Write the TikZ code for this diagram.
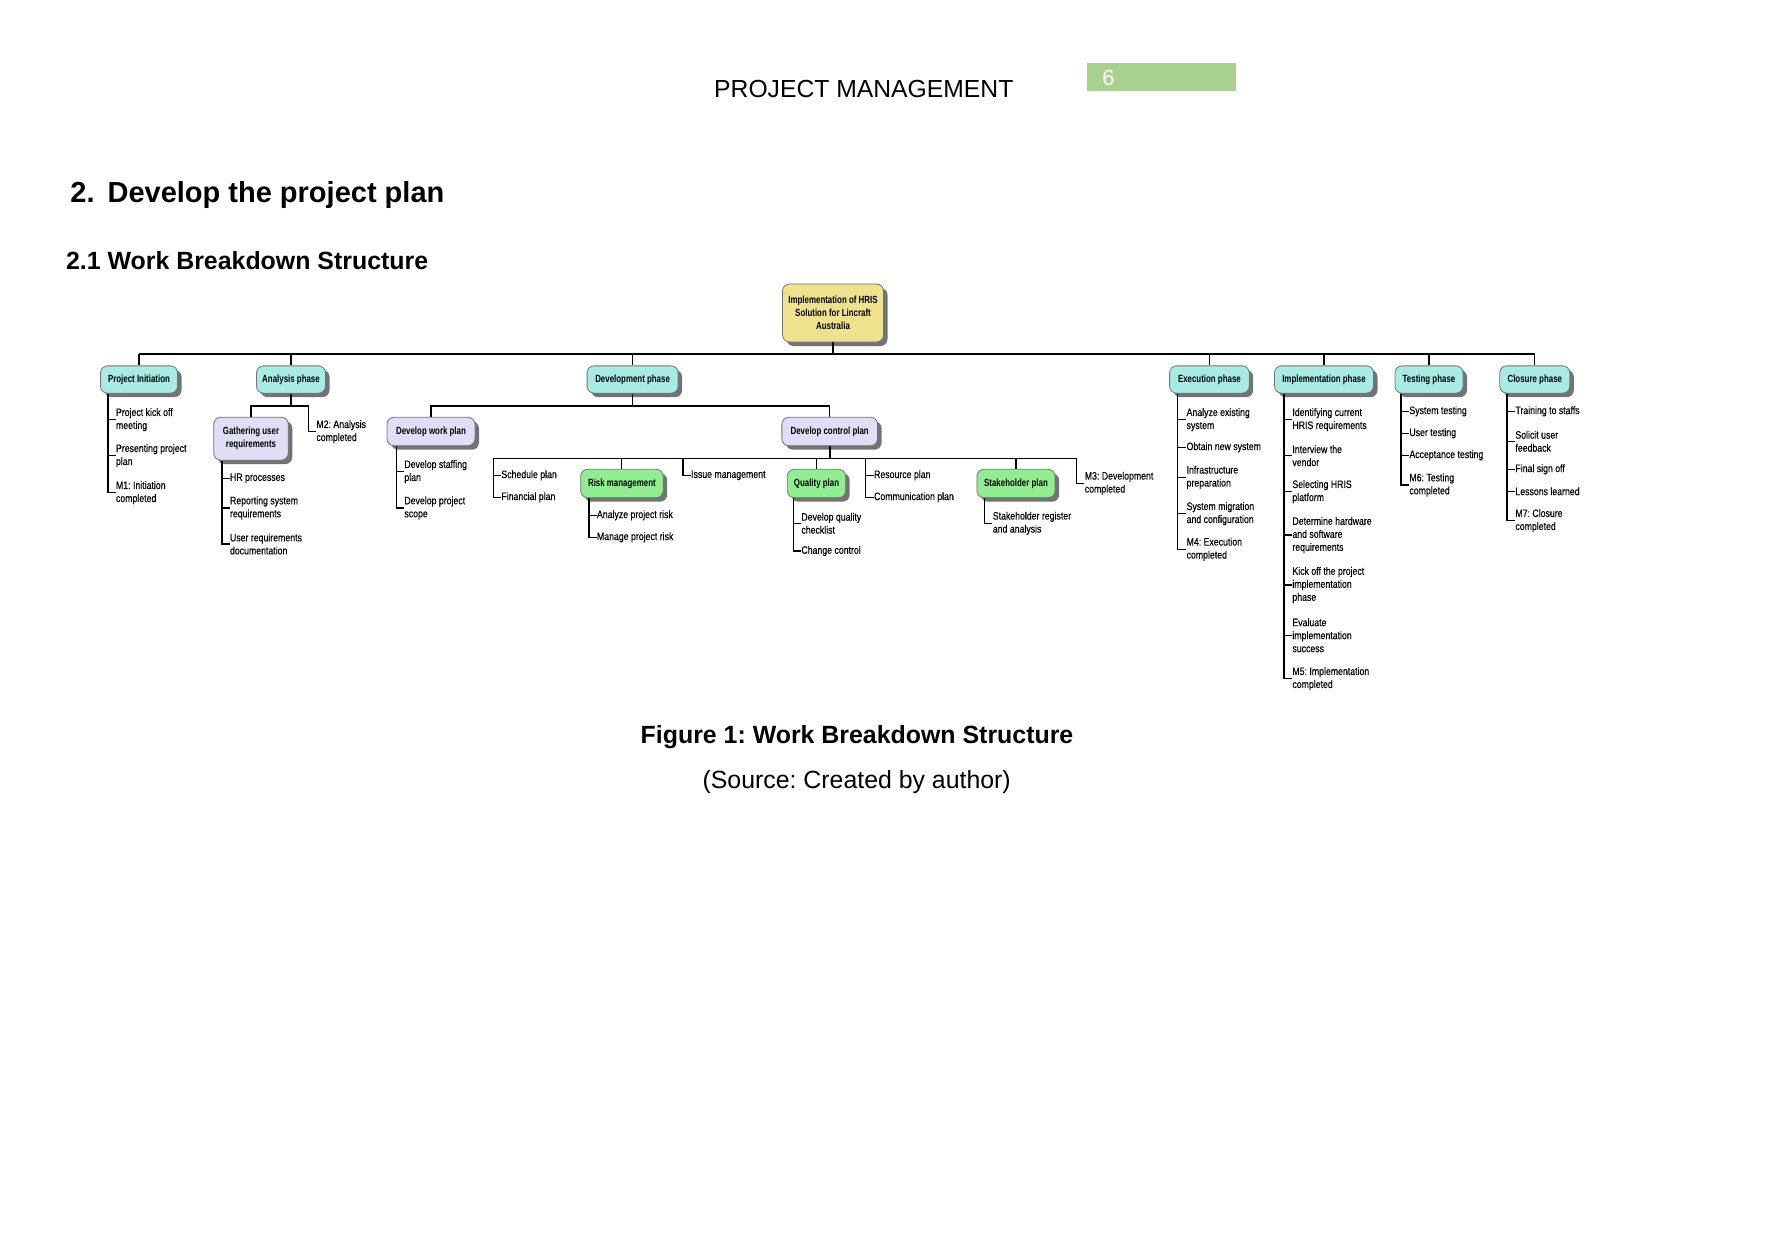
\documentclass[tikz,border=0pt]{standalone}
\usepackage{fontspec}
\setmainfont{Liberation Sans}
\newfontfamily\nar[FakeStretch=0.81,BoldFeatures={FakeStretch=0.76}]{Liberation Sans}
\newfontfamily\narl[FakeStretch=0.81,FakeBold=0.25]{Liberation Sans}
\usetikzlibrary{shadows}
\definecolor{rootc}{RGB}{238,226,140}
\definecolor{phasec}{RGB}{168,234,228}
\definecolor{greenc}{RGB}{144,238,144}
\definecolor{lavc}{RGB}{222,222,246}
\definecolor{hdrgreen}{RGB}{169,209,142}
\frenchspacing
\tikzset{
  conn/.style={line width=0.55pt, black},
  thickconn/.style={line width=1pt, black},
  wbox/.style={rounded corners=3.5pt, draw=black!55, line width=0.4pt, align=center,
    inner sep=0pt, font=\nar\bfseries\fontsize{5.2}{6.5}\selectfont,
    drop shadow={shadow xshift=2pt, shadow yshift=-2pt, fill=black!55, opacity=1}},
  rootbox/.style={wbox, fill=rootc, minimum height=29pt},
  phasebox/.style={wbox, fill=phasec, minimum height=13.65pt},
  lavbox/.style={wbox, fill=lavc, minimum height=14.2pt},
  greenbox/.style={wbox, fill=greenc, minimum height=14.2pt},
  leaf/.style={anchor=west, align=left, inner sep=0pt, font=\narl\fontsize{5.4}{6.5}\selectfont},
}
\begin{document}
\begin{tikzpicture}[x=0.5pt, y=-0.5pt]
\useasboundingbox (0,0) rectangle (1772,1241);
\fill[white] (0,0) rectangle (1772,1241);

% header
\node[anchor=base west, inner sep=0pt, font=\fontsize{12.35}{14}\selectfont] (hdr) at (713.8,97.3) {PROJECT MANAGEMENT};
\node[fill=hdrgreen, minimum width=74.55pt, minimum height=14.15pt, inner sep=0pt] (pgbox) at (1161.15,76.85) {};
\node[anchor=base west, inner sep=0pt, text=white, font=\fontsize{11}{13}\selectfont] (pgnum) at (1102,86) {6};
\node[anchor=base west, inner sep=0pt, font=\bfseries\fontsize{14.5}{17}\selectfont] (h1) at (70,202.7) {2.\hspace{6.5pt}Develop the project plan};
\node[anchor=base west, inner sep=0pt, font=\bfseries\fontsize{12.45}{15}\selectfont] (h2) at (65.7,269.3) {2.1 Work Breakdown Structure};
\node[anchor=base, inner sep=0pt, font=\bfseries\fontsize{12.45}{15}\selectfont] (cap) at (857,743.3) {Figure 1: Work Breakdown Structure};
\node[anchor=base, inner sep=0pt, font=\fontsize{12.43}{15}\selectfont] (src) at (856.7,788) {(Source: Created by author)};

% boxes
\node[rootbox, minimum width=50.5pt] (root) at (833,313) {Implementation of HRIS\\Solution for Lincraft\\Australia};
\node[phasebox, minimum width=38.5pt] (pi) at (139,379.5) {Project Initiation};
\node[phasebox, minimum width=34.5pt] (an) at (291,379.5) {Analysis phase};
\node[phasebox, minimum width=45.5pt] (dev) at (632.6,379.5) {Development phase};
\node[phasebox, minimum width=39.8pt] (exe) at (1209.4,379.5) {Execution phase};
\node[phasebox, minimum width=49.5pt] (imp) at (1324,379.5) {Implementation phase};
\node[phasebox, minimum width=34pt] (tst) at (1429,379.5) {Testing phase};
\node[phasebox, minimum width=35pt] (clo) at (1534.8,379.5) {Closure phase};

\node[lavbox, minimum width=37.25pt, minimum height=21.5pt] (gath) at (251,438.7) {Gathering user\\requirements};
\node[lavbox, minimum width=44pt] (wp) at (431,431.5) {Develop work plan};
\node[lavbox, minimum width=47.85pt] (cp) at (829.7,431.5) {Develop control plan};

\node[greenbox, minimum width=41.25pt] (risk) at (621.9,483.5) {Risk management};
\node[greenbox, minimum width=29.2pt] (qual) at (816.5,483.5) {Quality plan};
\node[greenbox, minimum width=39.1pt] (stake) at (1016,483.5) {Stakeholder plan};

% leaves
\node[leaf] (p1) at (115.6,419.7) {Project kick off\\meeting};
\node[leaf] (p2) at (115.6,455.7) {Presenting project\\plan};
\node[leaf] (p3) at (115.6,492.7) {M1: Initiation\\completed};

\node[leaf] (g1) at (229.6,478.3) {HR processes};
\node[leaf] (g2) at (229.6,508) {Reporting system\\requirements};
\node[leaf] (g3) at (229.6,544) {User requirements\\documentation};

\node[leaf] (m2) at (316,431.7) {M2: Analysis\\completed};

\node[leaf] (w1) at (404,471.7) {Develop staffing\\plan};
\node[leaf] (w2) at (404,508) {Develop project\\scope};

\node[leaf] (sch) at (501,475.3) {Schedule plan};
\node[leaf] (fin) at (501,497.3) {Financial plan};

\node[leaf] (r1) at (596.6,515.3) {Analyze project risk};
\node[leaf] (r2) at (596.6,537.3) {Manage project risk};

\node[leaf] (iss) at (690.7,475.3) {Issue management};

\node[leaf] (q1) at (801,523.3) {Develop quality\\checklist};
\node[leaf] (q2) at (801,551) {Change control};

\node[leaf] (res) at (873.7,475.3) {Resource plan};
\node[leaf] (com) at (873.7,497.3) {Communication plan};

\node[leaf] (s1) at (992.4,523.3) {Stakeholder register\\and analysis};

\node[leaf] (m3) at (1084.4,483.3) {M3: Development\\completed};

\node[leaf] (e1) at (1186.2,419.7) {Analyze existing\\system};
\node[leaf] (e2) at (1186.2,447.3) {Obtain new system};
\node[leaf] (e3) at (1186.2,477.3) {Infrastructure\\preparation};
\node[leaf] (e4) at (1186.2,513.7) {System migration\\and configuration};
\node[leaf] (e5) at (1186.2,549.3) {M4: Execution\\completed};

\node[leaf] (i1) at (1292,419.7) {Identifying current\\HRIS requirements};
\node[leaf] (i2) at (1292,455.7) {Interview the\\vendor};
\node[leaf] (i3) at (1292,491.7) {Selecting HRIS\\platform};
\node[leaf] (i4) at (1292,535) {Determine hardware\\and software\\requirements};
\node[leaf] (i5) at (1292,585) {Kick off the project\\implementation\\phase};
\node[leaf] (i6) at (1292,635.3) {Evaluate\\implementation\\success};
\node[leaf] (i7) at (1292,678.7) {M5: Implementation\\completed};

\node[leaf] (t1) at (1409,411.3) {System testing};
\node[leaf] (t2) at (1409,433.3) {User testing};
\node[leaf] (t3) at (1409,455.3) {Acceptance testing};
\node[leaf] (t4) at (1409,485) {M6: Testing\\completed};

\node[leaf] (c1) at (1515,411.3) {Training to staffs};
\node[leaf] (c2) at (1515,441.3) {Solicit user\\feedback};
\node[leaf] (c3) at (1515,469.3) {Final sign off};
\node[leaf] (c4) at (1515,491.3) {Lessons learned};
\node[leaf] (c5) at (1515,520.7) {M7: Closure\\completed};

% bus coordinates
\coordinate (bus0) at (0,354);
\coordinate (bus1) at (0,406);
\coordinate (bus2) at (0,458.3);
\coordinate (m2x) at (308.5,406);
\coordinate (schv) at (493.7,0);
\coordinate (issv) at (683,0);
\coordinate (resv) at (865.6,0);
\coordinate (m3v) at (1076.3,0);
\coordinate (piv) at (108,0);
\coordinate (gv) at (222,0);
\coordinate (wv) at (396.5,0);
\coordinate (rv) at (589,0);
\coordinate (qv) at (793.7,0);
\coordinate (sv) at (984.8,0);
\coordinate (ev) at (1177.7,0);
\coordinate (iv) at (1284,0);
\coordinate (tv) at (1401,0);
\coordinate (cv) at (1507,0);

% level 1
\draw[thickconn] (root.south) -- (root.south |- bus0);
\draw[conn] (pi.north |- bus0) -- (clo.north |- bus0);
\foreach \n in {pi,an,dev,exe,imp,tst,clo} \draw[conn] (\n.north |- bus0) -- (\n.north);

% analysis
\draw[thickconn] (an.south) -- (an.south |- bus1);
\draw[conn] (gath.north) |- (m2x) |- (m2.west);

% development
\draw[conn] (dev.south) -- (dev.south |- bus1);
\draw[conn] (wp.north) |- (cp.north |- bus1) -- (cp.north);

% control
\draw[thickconn] (cp.south) -- (cp.south |- bus2);
\draw[conn] (schv |- bus2) -- (m3v |- bus2);
\draw[conn] (schv |- bus2) |- (sch.west);
\draw[conn] (schv |- bus2) |- (fin.west);
\draw[conn] (risk.north |- bus2) -- (risk.north);
\draw[conn] (issv |- bus2) |- (iss.west);
\draw[conn] (qual.north |- bus2) -- (qual.north);
\draw[conn] (resv |- bus2) |- (res.west);
\draw[conn] (resv |- bus2) |- (com.west);
\draw[conn] (stake.north |- bus2) -- (stake.north);
\draw[conn] (m3v |- bus2) |- (m3.west);

% lists
\foreach \l in {p1,p2,p3} \draw[conn] (pi.south -| piv) |- (\l.west);
\foreach \l in {g1,g2,g3} \draw[conn] (gath.south -| gv) |- (\l.west);
\foreach \l in {w1,w2} \draw[conn] (wp.south -| wv) |- (\l.west);
\foreach \l in {r1,r2} \draw[conn] (risk.south -| rv) |- (\l.west);
\foreach \l in {q1,q2} \draw[conn] (qual.south -| qv) |- (\l.west);
\foreach \l in {s1} \draw[conn] (stake.south -| sv) |- (\l.west);
\foreach \l in {e1,e2,e3,e4,e5} \draw[conn] (exe.south -| ev) |- (\l.west);
\foreach \l in {i1,i2,i3,i4,i5,i6,i7} \draw[conn] (imp.south -| iv) |- (\l.west);
\foreach \l in {t1,t2,t3,t4} \draw[conn] (tst.south -| tv) |- (\l.west);
\foreach \l in {c1,c2,c3,c4,c5} \draw[conn] (clo.south -| cv) |- (\l.west);
\end{tikzpicture}
\end{document}
